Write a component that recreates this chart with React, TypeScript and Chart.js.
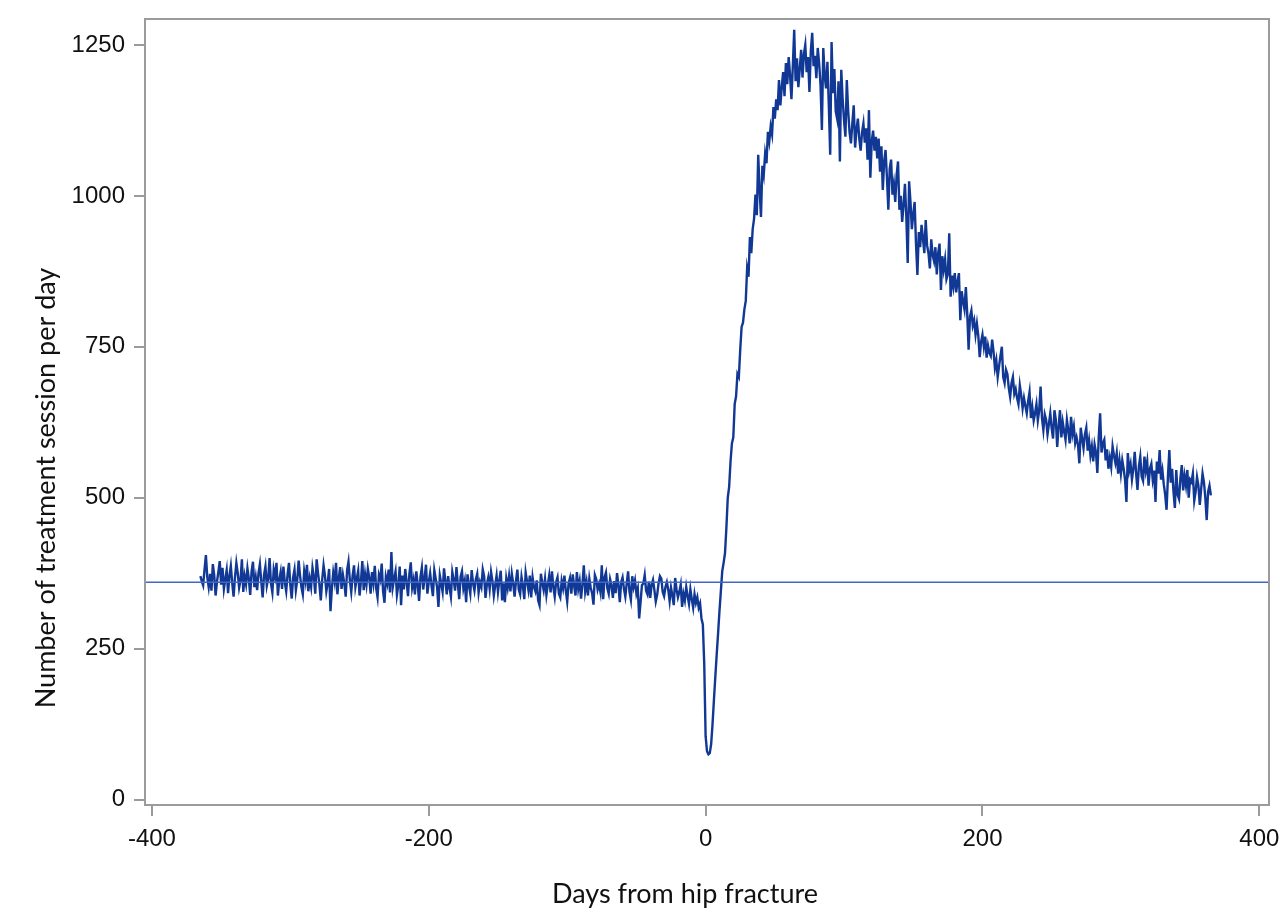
import { useEffect, useRef } from "react"
import { Chart, registerables } from "chart.js"

Chart.register(...registerables)

// one value per day; each period starts at its first day
const preStartDay = -365
const postStartDay = 0

// treatment sessions per day, year before the fracture (days -365 .. -1)
const sessionsBefore = [
  370, 362, 355, 381, 405, 368, 352, 374, 346, 390, 372, 338, 361, 377, 395, 356, 384, 349, 365, 380,
  342, 371, 387, 359, 336, 368, 392, 375, 351, 363, 398, 344, 370, 357, 383, 366, 339, 378, 394, 352,
  368, 347, 375, 390, 361, 335, 372, 386, 354, 366, 400, 358, 343, 381, 369, 392, 338, 364, 377, 349,
  386, 360, 345, 373, 392, 355, 333, 368, 381, 347, 364, 396, 371, 352, 340, 378, 362, 389, 345, 366,
  352, 384, 369, 341, 398, 375, 356, 330, 364, 388, 371, 345, 359, 382, 312, 350, 376, 361, 392, 340,
  367, 385, 349, 372, 358, 336, 380, 394, 363, 344, 371, 388, 352, 366, 379, 338, 361, 395, 347, 373,
  356, 382, 368, 341, 377, 359, 387, 350, 335, 372, 364, 391, 345, 326, 369, 358, 381, 343, 410, 352,
  366, 378, 339, 355, 386, 322, 371, 348, 382, 360, 337, 374, 393, 351, 364, 340, 378, 357, 329, 369,
  384, 348, 367, 389, 341, 360, 375, 354, 337, 380, 366, 352, 319, 371, 358, 344, 383, 362, 340, 370,
  351, 336, 377, 364, 346, 385, 357, 332, 369, 378, 350, 362, 327, 373, 355, 341, 380, 358, 346, 365,
  374, 343, 360, 352, 381, 370, 334, 357, 368, 349, 377, 362, 338, 355, 371, 344, 363, 379, 330, 358,
  327, 366, 351, 370, 345, 374, 358, 336, 362, 381, 348, 340, 369, 354, 332, 376, 361, 347, 371, 335,
  368, 352, 345, 363, 330, 322, 374, 359, 347, 366, 339, 356, 371, 343, 378, 352, 336, 360, 368, 341,
  335, 362, 350, 371, 346, 328, 358, 367, 341, 373, 355, 338, 377, 349, 362, 333, 356, 388, 345, 360,
  338, 366, 351, 342, 323, 372, 365, 348, 357, 344, 388, 332, 368, 376, 350, 341, 365, 355, 334, 362,
  342, 375, 355, 327, 360, 368, 349, 336, 358, 378, 344, 331, 370, 352, 363, 341, 350, 300, 327, 355,
  358, 372, 346, 340, 361, 334, 356, 364, 347, 328, 339, 358, 370, 366, 344, 337, 352, 360, 348, 329,
  351, 338, 322, 367, 348, 335, 344, 356, 319, 341, 330, 352, 337, 324, 348, 332, 318, 340, 326, 335,
  318, 325, 300, 290, 225,
]

// treatment sessions per day, year after the fracture (days 0 .. 365)
const sessionsAfter = [
  105, 80, 75, 77, 92, 125, 165, 203, 240, 275, 312, 345, 378, 392, 408, 450, 500, 518, 560, 590,
  600, 655, 668, 705, 700, 745, 783, 790, 812, 826, 880, 866, 932, 905, 945, 962, 1002, 968, 1068, 1010,
  965, 1050, 1035, 1070, 1054, 1106, 1090, 1115, 1102, 1147, 1128, 1160, 1142, 1192, 1150, 1180, 1205, 1165, 1220, 1185,
  1230, 1200, 1160, 1215, 1275, 1190, 1228, 1180, 1210, 1242, 1196, 1235, 1250, 1205, 1230, 1172, 1240, 1270, 1215, 1232,
  1195, 1245, 1220, 1185, 1109, 1245, 1200, 1178, 1222, 1150, 1068, 1255, 1170, 1210, 1140, 1128, 1190, 1057, 1209, 1160,
  1125, 1098, 1192, 1140, 1105, 1087, 1120, 1150, 1080, 1110, 1128, 1095, 1075, 1105, 1120, 1088, 1112, 1060, 1142, 1030,
  1090, 1108, 1075, 1098, 1062, 1095, 1040, 1082, 1010, 1058, 1076, 1030, 977, 1045, 1060, 1002, 1020, 990, 1035, 1057,
  977, 1000, 957, 985, 1020, 965, 889, 1024, 990, 945, 970, 990, 920, 869, 940, 915, 952, 930, 905, 960,
  918, 905, 880, 928, 902, 892, 915, 870, 905, 921, 844, 900, 878, 895, 862, 870, 938, 833, 868, 850,
  872, 840, 858, 872, 794, 842, 825, 812, 849, 805, 745, 800, 810, 785, 794, 770, 788, 768, 733, 758,
  770, 750, 767, 732, 752, 740, 735, 762, 742, 715, 728, 700, 718, 735, 750, 700, 690, 712, 705, 682,
  667, 690, 700, 672, 680, 665, 655, 686, 670, 648, 665, 652, 640, 660, 675, 632, 650, 628, 640, 655,
  628, 645, 684, 632, 612, 638, 629, 605, 622, 640, 615, 598, 645, 629, 584, 618, 645, 600, 625, 610,
  596, 629, 612, 590, 634, 605, 618, 590, 600, 588, 557, 616, 598, 582, 605, 616, 578, 595, 570, 585,
  560, 588, 575, 541, 600, 640, 575, 590, 596, 562, 580, 548, 566, 551, 585, 570, 558, 574, 540, 562,
  540, 562, 548, 530, 493, 574, 545, 556, 530, 548, 576, 540, 513, 552, 568, 535, 528, 568, 545, 560,
  520, 548, 556, 530, 545, 493, 560, 540, 579, 530, 545, 522, 505, 480, 535, 579, 525, 548, 510, 483,
  546, 505, 498, 532, 554, 512, 536, 520, 546, 500, 530, 526, 540, 495, 510, 534, 520, 488, 515, 540,
  526, 500, 463, 510, 520, 504,
]

// pre-fracture average level (horizontal reference line)
const baselineLevel = 360

const xTicks = [-400, -200, 0, 200, 400]
const yTicks = [0, 250, 500, 750, 1000, 1250]

const xMin = -405
const xMax = 407
const yMin = -9
const yMax = 1293

const axisGray = "#9b9b9b"
const tickFont = { family: "'Liberation Sans', Arial, sans-serif", size: 24 }
const titleFont = "27px Lato, 'Open Sans', sans-serif"

// frame around the plot + the two axis titles (placed like the original)
const framePlugin = {
  id: "frameAndTitles",
  afterDraw(chart: Chart) {
    const { ctx, chartArea } = chart
    ctx.save()
    ctx.strokeStyle = axisGray
    ctx.lineWidth = 2
    ctx.strokeRect(chartArea.left, chartArea.top, chartArea.right - chartArea.left, chartArea.bottom - chartArea.top)

    ctx.fillStyle = "#111"
    ctx.font = titleFont
    ctx.textAlign = "center"
    ctx.textBaseline = "alphabetic"
    ctx.fillText("Days from hip fracture", 685, 903)

    ctx.translate(55, 488)
    ctx.rotate(-Math.PI / 2)
    ctx.fillText("Number of treatment session per day", 0, 0)
    ctx.restore()
  },
}

const noOverflow = (scale: any) => {
  scale.paddingLeft = 0
  scale.paddingRight = 0
  scale.paddingTop = 0
  scale.paddingBottom = 0
}

export default function App() {
  const canvasRef = useRef<HTMLCanvasElement>(null)
  const chartRef = useRef<Chart | null>(null)

  useEffect(() => {
    if (!canvasRef.current) return
    if (chartRef.current) chartRef.current.destroy()

    const ctx = canvasRef.current.getContext("2d")
    if (!ctx) return

    const series = [
      ...sessionsBefore.map((v, i) => ({ x: preStartDay + i, y: v })),
      ...sessionsAfter.map((v, i) => ({ x: postStartDay + i, y: v })),
    ]

    chartRef.current = new Chart(ctx, {
      type: "line",
      data: {
        datasets: [
          {
            label: "Reference level",
            data: [
              { x: xMin, y: baselineLevel },
              { x: xMax, y: baselineLevel },
            ],
            borderColor: "#3f68c6",
            borderWidth: 1.5,
            pointRadius: 0,
            order: 0,
          },
          {
            label: "Treatment sessions",
            data: series,
            borderColor: "#103894",
            borderWidth: 2.4,
            pointRadius: 0,
            tension: 0,
            order: 1,
          },
        ],
      },
      options: {
        animation: false,
        responsive: true,
        maintainAspectRatio: false,
        layout: { padding: { top: 19, right: 11, left: 0, bottom: 0 } },
        plugins: {
          legend: { display: false },
          tooltip: { enabled: false },
        },
        scales: {
          x: {
            type: "linear",
            min: xMin,
            max: xMax,
            afterBuildTicks: (scale) => {
              scale.ticks = xTicks.map((v) => ({ value: v }))
            },
            afterFit: (scale) => {
              scale.height = 115
              noOverflow(scale)
            },
            border: { display: false },
            grid: {
              drawOnChartArea: false,
              drawTicks: true,
              tickLength: 11,
              color: axisGray,
              lineWidth: 2,
            },
            ticks: {
              color: "#111",
              font: tickFont,
              padding: 9,
              maxRotation: 0,
              callback: (v) => String(v),
            },
          },
          y: {
            type: "linear",
            min: yMin,
            max: yMax,
            afterBuildTicks: (scale) => {
              scale.ticks = yTicks.map((v) => ({ value: v }))
            },
            afterFit: (scale) => {
              scale.width = 145
              noOverflow(scale)
            },
            border: { display: false },
            grid: {
              drawOnChartArea: false,
              drawTicks: true,
              tickLength: 11,
              color: axisGray,
              lineWidth: 2,
            },
            ticks: {
              color: "#111",
              font: tickFont,
              padding: 9,
              callback: (v) => String(v),
            },
          },
        },
      },
      plugins: [framePlugin],
    })

    return () => {
      if (chartRef.current) {
        chartRef.current.destroy()
        chartRef.current = null
      }
    }
  }, [])

  return (
    <div style={{ position: "absolute", left: 0, top: 0, width: 1280, height: 920, background: "#fff" }}>
      <canvas ref={canvasRef} />
    </div>
  )
}
